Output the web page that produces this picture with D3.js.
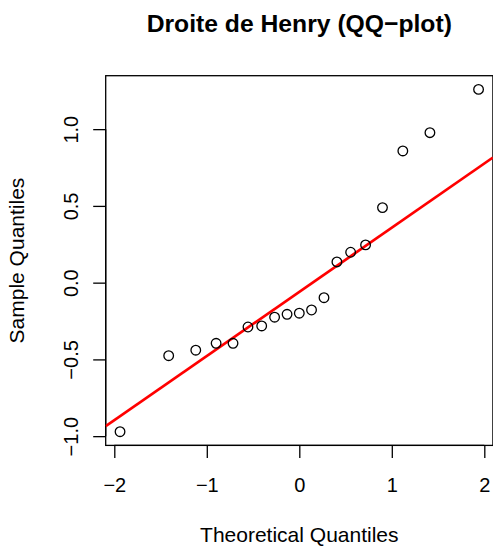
<!DOCTYPE html>
<html>
<head>
<meta charset="utf-8">
<script src="https://cdn.jsdelivr.net/npm/d3@7/dist/d3.min.js"></script>
<style>
  html, body { margin: 0; padding: 0; background: #fff; }
  svg text { font-family: "Liberation Sans", Arial, Helvetica, sans-serif; fill: #000; }
</style>
</head>
<body>
<svg id="chart" width="493" height="548"></svg>
<script>
// Normal quantiles for n = 19 (ppoints: (i - 0.5) / 19)
const theoretical = [-1.9379, -1.4121, -1.1192, -0.8993, -0.7164, -0.5549, -0.4065, -0.2670, -0.1323, 0,
                     0.1323, 0.2670, 0.4065, 0.5549, 0.7164, 0.8993, 1.1192, 1.4121, 1.9379];
// Sorted sample values
const sample = [-0.971, -0.476, -0.440, -0.395, -0.395, -0.289, -0.282, -0.225, -0.206, -0.199,
                -0.178, -0.098, 0.135, 0.198, 0.246, 0.489, 0.858, 0.977, 1.259];
const xTicks = [-2, -1, 0, 1, 2];
const yTicks = [-1.0, -0.5, 0.0, 0.5, 1.0];
const titleText = "Droite de Henry (QQ\u2212plot)";
const xTitle = "Theoretical Quantiles";
const yTitle = "Sample Quantiles";

const svg = d3.select("#chart");
const box = { left: 105.7, right: 492.9, top: 75.7, bottom: 445.4 };

// Pad data ranges by 4% on each side
function padded(vals) {
  const [a, b] = d3.extent(vals);
  const p = (b - a) * 0.04;
  return [a - p, b + p];
}
const x = d3.scaleLinear().domain(padded(theoretical)).range([box.left, box.right]);
const y = d3.scaleLinear().domain(padded(sample)).range([box.bottom, box.top]);

const fmtNum = d => (d < 0 ? "\u2212" : "") + Math.abs(d).toString();
const fmtY = d => (d < 0 ? "\u2212" : "") + Math.abs(d).toFixed(1);

// X axis
const xAxis = d3.axisBottom(x).tickValues(xTicks).tickSize(12.5).tickPadding(0).tickFormat(fmtNum);
const gx = svg.append("g").attr("transform", `translate(0,${box.bottom})`).call(xAxis);
gx.select(".domain").attr("d", `M${x(xTicks[0])},0H${x(xTicks[xTicks.length - 1])}`)
  .attr("stroke", "#000").attr("stroke-width", 1.3);
gx.selectAll(".tick line").attr("stroke", "#000").attr("stroke-width", 1.3);
gx.selectAll(".tick text").attr("font-size", 20).attr("dy", null).attr("y", 47)
  .attr("fill", "#000").style("font-family", "'Liberation Sans', Arial, sans-serif");

// Y axis (labels rotated)
const yAxis = d3.axisLeft(y).tickValues(yTicks).tickSize(12.5).tickPadding(0).tickFormat(fmtY);
const gy = svg.append("g").attr("transform", `translate(${box.left},0)`).call(yAxis);
gy.select(".domain").attr("d", `M0,${y(yTicks[0])}V${y(yTicks[yTicks.length - 1])}`)
  .attr("stroke", "#000").attr("stroke-width", 1.3);
gy.selectAll(".tick line").attr("stroke", "#000").attr("stroke-width", 1.3);
gy.selectAll(".tick text")
  .attr("font-size", 20).attr("x", null).attr("dy", null).attr("y", null)
  .attr("text-anchor", "middle")
  .attr("transform", "translate(-28,0) rotate(-90)")
  .attr("fill", "#000").style("font-family", "'Liberation Sans', Arial, sans-serif");

// Plot box
svg.append("rect")
  .attr("x", box.left).attr("y", box.top)
  .attr("width", box.right - box.left).attr("height", box.bottom - box.top)
  .attr("fill", "none").attr("stroke", "#000").attr("stroke-width", 1.3);

// Reference line through the first and third quartiles
const sorted = sample.slice().sort(d3.ascending);
const q1 = d3.quantile(sorted, 0.25), q3 = d3.quantile(sorted, 0.75);
const z1 = -0.6745, z3 = 0.6745;
const slope = (q3 - q1) / (z3 - z1);
const intercept = q1 - slope * z1;
const [xd0, xd1] = x.domain();
svg.append("clipPath").attr("id", "clip").append("rect")
  .attr("x", box.left).attr("y", box.top)
  .attr("width", box.right - box.left).attr("height", box.bottom - box.top);
svg.append("line")
  .attr("clip-path", "url(#clip)")
  .attr("x1", x(xd0)).attr("y1", y(intercept + slope * xd0))
  .attr("x2", x(xd1)).attr("y2", y(intercept + slope * xd1))
  .attr("stroke", "#ff0000").attr("stroke-width", 2.7);

// Points
svg.append("g").selectAll("circle")
  .data(theoretical.map((t, i) => [t, sample[i]]))
  .join("circle")
  .attr("cx", d => x(d[0])).attr("cy", d => y(d[1]))
  .attr("r", 4.8)
  .attr("fill", "none").attr("stroke", "#000").attr("stroke-width", 1.3);

// Titles
svg.append("text").attr("x", (box.left + box.right) / 2).attr("y", 32)
  .attr("text-anchor", "middle").attr("font-size", 24.7).attr("font-weight", "bold")
  .text(titleText);
svg.append("text").attr("x", (box.left + box.right) / 2).attr("y", 541.5)
  .attr("text-anchor", "middle").attr("font-size", 21).text(xTitle);
svg.append("text")
  .attr("transform", `translate(24,${(box.top + box.bottom) / 2}) rotate(-90)`)
  .attr("text-anchor", "middle").attr("font-size", 21).text(yTitle);
</script>
</body>
</html>
